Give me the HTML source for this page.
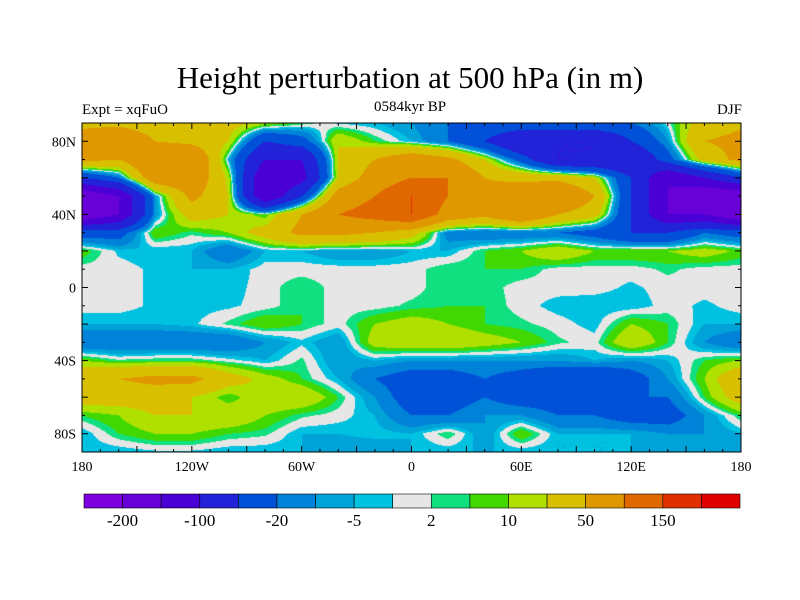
<!DOCTYPE html>
<html><head><meta charset="utf-8"><style>
body{margin:0;background:#fff;width:800px;height:600px;overflow:hidden;font-family:"Liberation Serif",serif;position:relative}
.t{position:absolute;white-space:nowrap;color:#000}
</style></head><body>
<div class="t" style="left:0;width:820px;text-align:center;top:60px;font-size:31px">Height perturbation at 500 hPa (in m)</div>
<div class="t" style="left:82px;top:102px;font-size:15px">Expt = xqFuO</div>
<div class="t" style="left:310px;width:200px;text-align:center;top:99px;font-size:15px">0584kyr BP</div>
<div class="t" style="right:58px;top:102px;font-size:15px">DJF</div>
<canvas id="map" width="659" height="329" style="position:absolute;left:82px;top:123px"></canvas>
<svg id="ax" width="800" height="600" style="position:absolute;left:0;top:0"></svg>
<script>
const levels=[-200,-150,-100,-50,-20,-10,-5,-2,2,5,10,20,50,100,150,200];
const colors=["#7e00dc","#6800d8","#4a00d4","#2222d8","#0050d8","#0082d8","#00a2d8","#00c2e0","#e6e6e6","#10e080","#40d800","#b0e000","#d8c000","#e09800","#e06800","#e03000","#e00000"];
const barLabels=["-200","-100","-20","-5","2","10","50","150"];
const lons=[-180,-160,-140,-120,-100,-80,-60,-40,-20,0,20,40,60,80,100,120,140,160,180];
const lats=[90,80,70,60,50,40,30,20,10,0,-10,-20,-30,-40,-50,-60,-70,-80,-90];
const lat90=[45,45,40,35,30,15,5,-3,-5,-10,-20,-20,-20,-20,-20,-20,0,30,45];
const lat80=[60,70,50,40,20,-50,-30,20,5,-5,-20,-50,-100,-100,-100,-50,-10,50,60];
const lat70=[60,50,100,100,-5,-100,-100,20,50,80,60,20,-30,-100,-100,-100,-30,30,60];
const lat60=[-50,-20,80,80,15,-150,-120,20,70,100,100,50,40,40,20,-50,-150,-100,-50];
const lat50=[-200,-150,-10,60,20,-150,-50,70,100,150,100,60,80,100,50,-50,-150,-200,-200];
const lat40=[-200,-150,-10,30,20,5,50,100,120,150,80,60,100,50,30,-50,-150,-150,-200];
const lat30=[-30,-30,10,3,10,30,60,60,50,30,-15,-20,-20,-20,-30,-50,-50,-20,-30];
const lat20=[8,-3,-5,-5,-20,-5,-5,-10,-10,-5,-5,5,10,20,10,10,10,15,8];
const lat10=[0,0,-3,-5,-5,0,0,0,0,0,5,5,5,0,0,0,3,0,0];
const lat0=[0,0,-3,-4,-4,0,5,0,0,0,5,4,0,0,0,-3,0,0,0];
const latS10=[0,0,-3,-4,-3,0,5,0,0,3,5,5,0,-4,-5,-5,0,-3,0];
const latS20=[-5,-5,-5,-3,3,10,5,0,10,15,10,5,3,0,-4,10,5,-5,-5];
const latS30=[-20,-20,-20,-20,-20,-10,-3,-10,15,20,20,15,10,3,0,20,5,-10,-20];
const latS40=[10,3,5,5,0,-5,3,-10,-5,-10,-10,-10,-10,-10,-5,-10,-5,5,10];
const latS50=[40,50,60,60,30,15,5,-5,-20,-30,-30,-20,-30,-40,-50,-30,-10,10,40];
const latS60=[30,30,30,20,5,20,20,5,-10,-30,-30,-20,-30,-30,-30,-20,-20,5,30];
const latS70=[5,10,20,20,20,10,3,0,-5,-20,-20,-10,-10,-20,-20,-30,-30,-10,5];
const latS80=[-5,5,10,10,5,3,-5,-5,-3,-5,5,-10,10,-5,-5,-5,-10,-10,-5];
const latS90=[-5,-5,-3,-3,-5,-5,-5,-10,-10,-5,-5,-5,-5,-5,-5,-5,-5,-5,-5];
const grid=[lat90,lat80,lat70,lat60,lat50,lat40,lat30,lat20,lat10,lat0,latS10,latS20,latS30,latS40,latS50,latS60,latS70,latS80,latS90];

const X0=82,X1=741,Y0=123,Y1=452;
const xOf=lon=>X0+(lon+180)/360*(X1-X0);
const yOf=lat=>Y0+(90-lat)/180*(Y1-Y0);
function val(lon,lat){
  const fi=(lon+180)/20, fj=(90-lat)/10;
  let i=Math.min(17,Math.floor(fi)), j=Math.min(17,Math.floor(fj));
  const u=fi-i,v=fj-j;
  return grid[j][i]*(1-u)*(1-v)+grid[j][i+1]*u*(1-v)+grid[j+1][i]*(1-u)*v+grid[j+1][i+1]*u*v;
}
function colorFor(z){let k=0;while(k<levels.length&&z>=levels[k])k++;return colors[k];}
const cv=document.getElementById('map'),ctx=cv.getContext('2d');
const W=X1-X0,H=Y1-Y0;
for(let py=0;py<H;py+=1)for(let px=0;px<W;px+=1){
  const lon=-180+(px+0.5)/W*360, lat=90-(py+0.5)/H*180;
  ctx.fillStyle=colorFor(val(lon,lat));ctx.fillRect(px,py,1,1);
}
const NS='http://www.w3.org/2000/svg',svg=document.getElementById('ax');
function mk(tag,attrs,txt){const e=document.createElementNS(NS,tag);for(const k in attrs)e.setAttribute(k,attrs[k]);if(txt!==undefined)e.textContent=txt;svg.appendChild(e);return e;}
const frame=mk('rect',{x:X0,y:Y0,width:W,height:H,fill:'none',stroke:'#000','stroke-width':1});


for(let lon=-180;lon<=180;lon+=10){const x=xOf(lon),L=lon%30==0?6:3;
  mk('line',{x1:x,x2:x,y1:Y0,y2:Y0+L,stroke:'#000'});mk('line',{x1:x,x2:x,y1:Y1,y2:Y1-L,stroke:'#000'});}
for(let lat=-90;lat<=90;lat+=10){const y=yOf(lat),L=lat%20==0?6:3;
  mk('line',{x1:X0,x2:X0+L,y1:y,y2:y,stroke:'#000'});mk('line',{x1:X1,x2:X1-L,y1:y,y2:y,stroke:'#000'});}
const lonTicks=[-180,-120,-60,0,60,120,180],lonLab=["180","120W","60W","0","60E","120E","180"];
lonTicks.forEach((l,i)=>{const t=mk('text',{x:xOf(l),y:471,'text-anchor':'middle','font-size':14,'font-family':'Liberation Serif, serif'},lonLab[i]);

});
const latTicks=[80,40,0,-40,-80],latLab=["80N","40N","0","40S","80S"];
latTicks.forEach((l,i)=>{const t=mk('text',{x:76,y:yOf(l)+5,'text-anchor':'end','font-size':14,'font-family':'Liberation Serif, serif'},latLab[i]);

});
const BX0=84,BX1=740,BY=494,BH=14,bw=(BX1-BX0)/colors.length;
colors.forEach((c,i)=>{const r=mk('rect',{x:BX0+i*bw,y:BY,width:bw,height:BH,fill:c,stroke:'#000','stroke-width':0.6});

});
barLabels.forEach((s,i)=>{const t=mk('text',{x:BX0+(2*i+1)*bw,y:526,'text-anchor':'middle','font-size':17,'font-family':'Liberation Serif, serif'},s);

});
</script>
</body></html>
